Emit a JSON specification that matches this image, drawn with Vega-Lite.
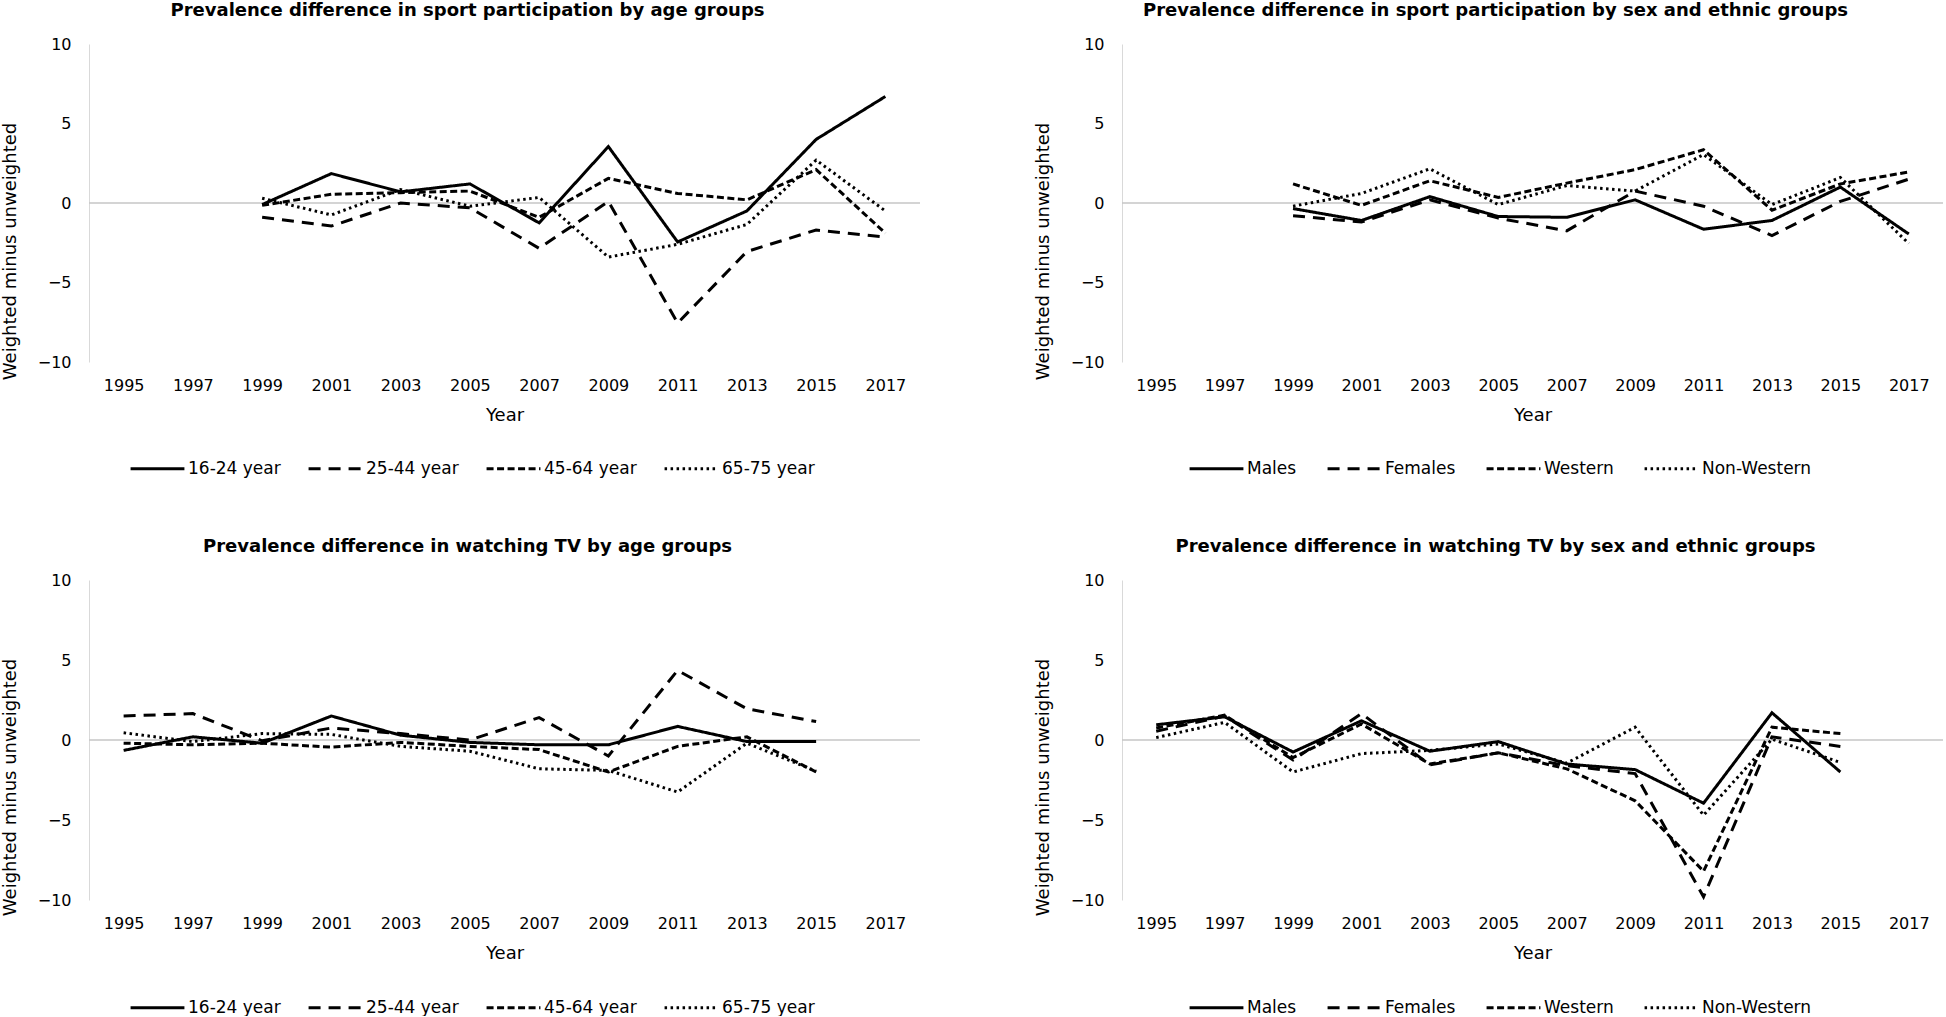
{
  "$schema": "https://vega.github.io/schema/vega-lite/v6.json",
  "background": "white",
  "padding": {"left": 1, "top": 2, "right": 0, "bottom": 0},
  "bounds": "flush",
  "columns": 2,
  "spacing": {"row": 218, "column": 202},
  "config": {
    "view": {"stroke": null},
    "font": "DejaVu Sans",
    "axis": {"labelFont": "DejaVu Sans", "titleFont": "DejaVu Sans", "labelColor": "black", "titleColor": "black", "titleFontWeight": "normal", "grid": false, "ticks": false},
    "legend": {"labelFont": "DejaVu Sans", "labelColor": "black"},
    "title": {"font": "DejaVu Sans", "fontSize": 18, "fontWeight": "bold", "color": "black", "anchor": "middle", "frame": "group", "dx": -37, "offset": 16}
  },
  "data": {"values": [
    {"panel": "A", "year": "1999", "group": "16-24 year", "value": -0.1},
    {"panel": "A", "year": "2001", "group": "16-24 year", "value": 1.85},
    {"panel": "A", "year": "2003", "group": "16-24 year", "value": 0.7},
    {"panel": "A", "year": "2005", "group": "16-24 year", "value": 1.2},
    {"panel": "A", "year": "2007", "group": "16-24 year", "value": -1.25},
    {"panel": "A", "year": "2009", "group": "16-24 year", "value": 3.55},
    {"panel": "A", "year": "2011", "group": "16-24 year", "value": -2.45},
    {"panel": "A", "year": "2013", "group": "16-24 year", "value": -0.5},
    {"panel": "A", "year": "2015", "group": "16-24 year", "value": 4.0},
    {"panel": "A", "year": "2017", "group": "16-24 year", "value": 6.7},
    {"panel": "A", "year": "1999", "group": "25-44 year", "value": -0.9},
    {"panel": "A", "year": "2001", "group": "25-44 year", "value": -1.45},
    {"panel": "A", "year": "2003", "group": "25-44 year", "value": 0.0},
    {"panel": "A", "year": "2005", "group": "25-44 year", "value": -0.3},
    {"panel": "A", "year": "2007", "group": "25-44 year", "value": -2.85},
    {"panel": "A", "year": "2009", "group": "25-44 year", "value": 0.1},
    {"panel": "A", "year": "2011", "group": "25-44 year", "value": -7.55},
    {"panel": "A", "year": "2013", "group": "25-44 year", "value": -3.05},
    {"panel": "A", "year": "2015", "group": "25-44 year", "value": -1.7},
    {"panel": "A", "year": "2017", "group": "25-44 year", "value": -2.15},
    {"panel": "A", "year": "1999", "group": "45-64 year", "value": -0.15},
    {"panel": "A", "year": "2001", "group": "45-64 year", "value": 0.55},
    {"panel": "A", "year": "2003", "group": "45-64 year", "value": 0.65},
    {"panel": "A", "year": "2005", "group": "45-64 year", "value": 0.75},
    {"panel": "A", "year": "2007", "group": "45-64 year", "value": -0.9},
    {"panel": "A", "year": "2009", "group": "45-64 year", "value": 1.55},
    {"panel": "A", "year": "2011", "group": "45-64 year", "value": 0.6},
    {"panel": "A", "year": "2013", "group": "45-64 year", "value": 0.2},
    {"panel": "A", "year": "2015", "group": "45-64 year", "value": 2.1},
    {"panel": "A", "year": "2017", "group": "45-64 year", "value": -1.9},
    {"panel": "A", "year": "1999", "group": "65-75 year", "value": 0.3},
    {"panel": "A", "year": "2001", "group": "65-75 year", "value": -0.75},
    {"panel": "A", "year": "2003", "group": "65-75 year", "value": 0.85},
    {"panel": "A", "year": "2005", "group": "65-75 year", "value": -0.2},
    {"panel": "A", "year": "2007", "group": "65-75 year", "value": 0.35},
    {"panel": "A", "year": "2009", "group": "65-75 year", "value": -3.4},
    {"panel": "A", "year": "2011", "group": "65-75 year", "value": -2.6},
    {"panel": "A", "year": "2013", "group": "65-75 year", "value": -1.35},
    {"panel": "A", "year": "2015", "group": "65-75 year", "value": 2.7},
    {"panel": "A", "year": "2017", "group": "65-75 year", "value": -0.5},

    {"panel": "B", "year": "1999", "group": "Males", "value": -0.35},
    {"panel": "B", "year": "2001", "group": "Males", "value": -1.1},
    {"panel": "B", "year": "2003", "group": "Males", "value": 0.4},
    {"panel": "B", "year": "2005", "group": "Males", "value": -0.85},
    {"panel": "B", "year": "2007", "group": "Males", "value": -0.9},
    {"panel": "B", "year": "2009", "group": "Males", "value": 0.2},
    {"panel": "B", "year": "2011", "group": "Males", "value": -1.65},
    {"panel": "B", "year": "2013", "group": "Males", "value": -1.1},
    {"panel": "B", "year": "2015", "group": "Males", "value": 1.0},
    {"panel": "B", "year": "2017", "group": "Males", "value": -1.95},
    {"panel": "B", "year": "1999", "group": "Females", "value": -0.8},
    {"panel": "B", "year": "2001", "group": "Females", "value": -1.2},
    {"panel": "B", "year": "2003", "group": "Females", "value": 0.2},
    {"panel": "B", "year": "2005", "group": "Females", "value": -0.95},
    {"panel": "B", "year": "2007", "group": "Females", "value": -1.75},
    {"panel": "B", "year": "2009", "group": "Females", "value": 0.75},
    {"panel": "B", "year": "2011", "group": "Females", "value": -0.2},
    {"panel": "B", "year": "2013", "group": "Females", "value": -2.05},
    {"panel": "B", "year": "2015", "group": "Females", "value": 0.1},
    {"panel": "B", "year": "2017", "group": "Females", "value": 1.5},
    {"panel": "B", "year": "1999", "group": "Western", "value": 1.2},
    {"panel": "B", "year": "2001", "group": "Western", "value": -0.15},
    {"panel": "B", "year": "2003", "group": "Western", "value": 1.4},
    {"panel": "B", "year": "2005", "group": "Western", "value": 0.35},
    {"panel": "B", "year": "2007", "group": "Western", "value": 1.25},
    {"panel": "B", "year": "2009", "group": "Western", "value": 2.1},
    {"panel": "B", "year": "2011", "group": "Western", "value": 3.35},
    {"panel": "B", "year": "2013", "group": "Western", "value": -0.45},
    {"panel": "B", "year": "2015", "group": "Western", "value": 1.2},
    {"panel": "B", "year": "2017", "group": "Western", "value": 1.95},
    {"panel": "B", "year": "1999", "group": "Non-Western", "value": -0.2},
    {"panel": "B", "year": "2001", "group": "Non-Western", "value": 0.6},
    {"panel": "B", "year": "2003", "group": "Non-Western", "value": 2.15},
    {"panel": "B", "year": "2005", "group": "Non-Western", "value": -0.1},
    {"panel": "B", "year": "2007", "group": "Non-Western", "value": 1.1},
    {"panel": "B", "year": "2009", "group": "Non-Western", "value": 0.75},
    {"panel": "B", "year": "2011", "group": "Non-Western", "value": 3.05},
    {"panel": "B", "year": "2013", "group": "Non-Western", "value": -0.1},
    {"panel": "B", "year": "2015", "group": "Non-Western", "value": 1.6},
    {"panel": "B", "year": "2017", "group": "Non-Western", "value": -2.55},

    {"panel": "C", "year": "1995", "group": "16-24 year", "value": -0.65},
    {"panel": "C", "year": "1997", "group": "16-24 year", "value": 0.2},
    {"panel": "C", "year": "1999", "group": "16-24 year", "value": -0.2},
    {"panel": "C", "year": "2001", "group": "16-24 year", "value": 1.5},
    {"panel": "C", "year": "2003", "group": "16-24 year", "value": 0.3},
    {"panel": "C", "year": "2005", "group": "16-24 year", "value": -0.15},
    {"panel": "C", "year": "2007", "group": "16-24 year", "value": -0.3},
    {"panel": "C", "year": "2009", "group": "16-24 year", "value": -0.3},
    {"panel": "C", "year": "2011", "group": "16-24 year", "value": 0.85},
    {"panel": "C", "year": "2013", "group": "16-24 year", "value": -0.1},
    {"panel": "C", "year": "2015", "group": "16-24 year", "value": -0.1},
    {"panel": "C", "year": "1995", "group": "25-44 year", "value": 1.5},
    {"panel": "C", "year": "1997", "group": "25-44 year", "value": 1.65},
    {"panel": "C", "year": "1999", "group": "25-44 year", "value": -0.05},
    {"panel": "C", "year": "2001", "group": "25-44 year", "value": 0.75},
    {"panel": "C", "year": "2003", "group": "25-44 year", "value": 0.4},
    {"panel": "C", "year": "2005", "group": "25-44 year", "value": 0.0},
    {"panel": "C", "year": "2007", "group": "25-44 year", "value": 1.4},
    {"panel": "C", "year": "2009", "group": "25-44 year", "value": -1.0},
    {"panel": "C", "year": "2011", "group": "25-44 year", "value": 4.35},
    {"panel": "C", "year": "2013", "group": "25-44 year", "value": 1.95},
    {"panel": "C", "year": "2015", "group": "25-44 year", "value": 1.15},
    {"panel": "C", "year": "1995", "group": "45-64 year", "value": -0.2},
    {"panel": "C", "year": "1997", "group": "45-64 year", "value": -0.3},
    {"panel": "C", "year": "1999", "group": "45-64 year", "value": -0.2},
    {"panel": "C", "year": "2001", "group": "45-64 year", "value": -0.45},
    {"panel": "C", "year": "2003", "group": "45-64 year", "value": -0.15},
    {"panel": "C", "year": "2005", "group": "45-64 year", "value": -0.4},
    {"panel": "C", "year": "2007", "group": "45-64 year", "value": -0.6},
    {"panel": "C", "year": "2009", "group": "45-64 year", "value": -2.0},
    {"panel": "C", "year": "2011", "group": "45-64 year", "value": -0.4},
    {"panel": "C", "year": "2013", "group": "45-64 year", "value": 0.2},
    {"panel": "C", "year": "2015", "group": "45-64 year", "value": -2.0},
    {"panel": "C", "year": "1995", "group": "65-75 year", "value": 0.45},
    {"panel": "C", "year": "1997", "group": "65-75 year", "value": -0.1},
    {"panel": "C", "year": "1999", "group": "65-75 year", "value": 0.4},
    {"panel": "C", "year": "2001", "group": "65-75 year", "value": 0.35},
    {"panel": "C", "year": "2003", "group": "65-75 year", "value": -0.4},
    {"panel": "C", "year": "2005", "group": "65-75 year", "value": -0.7},
    {"panel": "C", "year": "2007", "group": "65-75 year", "value": -1.8},
    {"panel": "C", "year": "2009", "group": "65-75 year", "value": -1.9},
    {"panel": "C", "year": "2011", "group": "65-75 year", "value": -3.25},
    {"panel": "C", "year": "2013", "group": "65-75 year", "value": -0.2},
    {"panel": "C", "year": "2015", "group": "65-75 year", "value": -1.95},

    {"panel": "D", "year": "1995", "group": "Males", "value": 0.95},
    {"panel": "D", "year": "1997", "group": "Males", "value": 1.45},
    {"panel": "D", "year": "1999", "group": "Males", "value": -0.75},
    {"panel": "D", "year": "2001", "group": "Males", "value": 1.2},
    {"panel": "D", "year": "2003", "group": "Males", "value": -0.7},
    {"panel": "D", "year": "2005", "group": "Males", "value": -0.1},
    {"panel": "D", "year": "2007", "group": "Males", "value": -1.5},
    {"panel": "D", "year": "2009", "group": "Males", "value": -1.85},
    {"panel": "D", "year": "2011", "group": "Males", "value": -3.95},
    {"panel": "D", "year": "2013", "group": "Males", "value": 1.7},
    {"panel": "D", "year": "2015", "group": "Males", "value": -2.0},
    {"panel": "D", "year": "1995", "group": "Females", "value": 0.55},
    {"panel": "D", "year": "1997", "group": "Females", "value": 1.5},
    {"panel": "D", "year": "1999", "group": "Females", "value": -1.25},
    {"panel": "D", "year": "2001", "group": "Females", "value": 1.65},
    {"panel": "D", "year": "2003", "group": "Females", "value": -1.55},
    {"panel": "D", "year": "2005", "group": "Females", "value": -0.8},
    {"panel": "D", "year": "2007", "group": "Females", "value": -1.6},
    {"panel": "D", "year": "2009", "group": "Females", "value": -2.1},
    {"panel": "D", "year": "2011", "group": "Females", "value": -9.8},
    {"panel": "D", "year": "2013", "group": "Females", "value": 0.2},
    {"panel": "D", "year": "2015", "group": "Females", "value": -0.4},
    {"panel": "D", "year": "1995", "group": "Western", "value": 0.75},
    {"panel": "D", "year": "1997", "group": "Western", "value": 1.55},
    {"panel": "D", "year": "1999", "group": "Western", "value": -1.1},
    {"panel": "D", "year": "2001", "group": "Western", "value": 1.0},
    {"panel": "D", "year": "2003", "group": "Western", "value": -1.5},
    {"panel": "D", "year": "2005", "group": "Western", "value": -0.8},
    {"panel": "D", "year": "2007", "group": "Western", "value": -1.8},
    {"panel": "D", "year": "2009", "group": "Western", "value": -3.8},
    {"panel": "D", "year": "2011", "group": "Western", "value": -8.2},
    {"panel": "D", "year": "2013", "group": "Western", "value": 0.8},
    {"panel": "D", "year": "2015", "group": "Western", "value": 0.4},
    {"panel": "D", "year": "1995", "group": "Non-Western", "value": 0.15},
    {"panel": "D", "year": "1997", "group": "Non-Western", "value": 1.1},
    {"panel": "D", "year": "1999", "group": "Non-Western", "value": -2.0},
    {"panel": "D", "year": "2001", "group": "Non-Western", "value": -0.85},
    {"panel": "D", "year": "2003", "group": "Non-Western", "value": -0.65},
    {"panel": "D", "year": "2005", "group": "Non-Western", "value": -0.25},
    {"panel": "D", "year": "2007", "group": "Non-Western", "value": -1.45},
    {"panel": "D", "year": "2009", "group": "Non-Western", "value": 0.8},
    {"panel": "D", "year": "2011", "group": "Non-Western", "value": -4.7},
    {"panel": "D", "year": "2013", "group": "Non-Western", "value": 0.05},
    {"panel": "D", "year": "2015", "group": "Non-Western", "value": -1.4}
  ]},
  "resolve": {"scale": {"strokeDash": "independent"}, "legend": {"strokeDash": "independent"}},
  "concat": [
    {
      "title": {"text": "Prevalence difference in sport participation by age groups"},
      "width": 831, "height": 318,
      "layer": [
        {"data": {"values": [{}]}, "mark": {"type": "rule", "color": "#c6c6c6", "strokeWidth": 1.5}, "encoding": {"y": {"datum": 0, "type": "quantitative", "scale": {"domain": [-10, 10], "nice": false}}}},
        {"transform": [{"filter": "datum.panel === 'A'"}],
         "mark": {"type": "line", "color": "black", "strokeWidth": 3},
         "encoding": {
           "x": {"field": "year", "type": "ordinal", "scale": {"type": "point", "domain": ["1995","1997","1999","2001","2003","2005","2007","2009","2011","2013","2015","2017"], "padding": 0.5}, "axis": {"title": "Year", "domain": false, "labelAngle": 0, "labelFontSize": 16, "labelPadding": 15, "titleFontSize": 18, "titleY": 53, "titleBaseline": "middle"}},
           "y": {"field": "value", "type": "quantitative", "scale": {"domain": [-10, 10], "nice": false}, "axis": {"title": "Weighted minus unweighted", "values": [-10, -5, 0, 5, 10], "domainColor": "#d9d9d9", "labelFontSize": 16, "labelPadding": 18, "titleFontSize": 18, "titleX": -79, "titleY": 207, "titleBaseline": "middle"}},
           "strokeDash": {"field": "group", "type": "nominal", "scale": {"domain": ["16-24 year", "25-44 year", "45-64 year", "65-75 year"], "range": [[1, 0], [12, 8], [7, 3.5], [2.5, 3.5]]}, "legend": {"title": null, "orient": "none", "legendX": 40, "legendY": 396, "direction": "horizontal", "columns": 4, "symbolType": "stroke", "symbolSize": 2900, "symbolStrokeWidth": 3, "symbolStrokeColor": "black", "labelFontSize": 17, "labelOffset": 2, "columnPadding": 21}}
         }}
      ]
    },
    {
      "title": {"text": "Prevalence difference in sport participation by sex and ethnic groups"},
      "width": 821, "height": 318,
      "layer": [
        {"data": {"values": [{}]}, "mark": {"type": "rule", "color": "#c6c6c6", "strokeWidth": 1.5}, "encoding": {"y": {"datum": 0, "type": "quantitative", "scale": {"domain": [-10, 10], "nice": false}}}},
        {"transform": [{"filter": "datum.panel === 'B'"}],
         "mark": {"type": "line", "color": "black", "strokeWidth": 3},
         "encoding": {
           "x": {"field": "year", "type": "ordinal", "scale": {"type": "point", "domain": ["1995","1997","1999","2001","2003","2005","2007","2009","2011","2013","2015","2017"], "padding": 0.5}, "axis": {"title": "Year", "domain": false, "labelAngle": 0, "labelFontSize": 16, "labelPadding": 15, "titleFontSize": 18, "titleY": 53, "titleBaseline": "middle"}},
           "y": {"field": "value", "type": "quantitative", "scale": {"domain": [-10, 10], "nice": false}, "axis": {"title": "Weighted minus unweighted", "values": [-10, -5, 0, 5, 10], "domainColor": "#d9d9d9", "labelFontSize": 16, "labelPadding": 18, "titleFontSize": 18, "titleX": -79, "titleY": 207, "titleBaseline": "middle"}},
           "strokeDash": {"field": "group", "type": "nominal", "scale": {"domain": ["Males", "Females", "Western", "Non-Western"], "range": [[1, 0], [12, 8], [7, 3.5], [2.5, 3.5]]}, "legend": {"title": null, "orient": "none", "legendX": 66, "legendY": 396, "direction": "horizontal", "columns": 4, "symbolType": "stroke", "symbolSize": 2900, "symbolStrokeWidth": 3, "symbolStrokeColor": "black", "labelFontSize": 17, "labelOffset": 2, "columnPadding": 24}}
         }}
      ]
    },
    {
      "title": {"text": "Prevalence difference in watching TV by age groups"},
      "width": 831, "height": 320,
      "layer": [
        {"data": {"values": [{}]}, "mark": {"type": "rule", "color": "#c6c6c6", "strokeWidth": 1.5}, "encoding": {"y": {"datum": 0, "type": "quantitative", "scale": {"domain": [-10, 10], "nice": false}}}},
        {"transform": [{"filter": "datum.panel === 'C'"}],
         "mark": {"type": "line", "color": "black", "strokeWidth": 3},
         "encoding": {
           "x": {"field": "year", "type": "ordinal", "scale": {"type": "point", "domain": ["1995","1997","1999","2001","2003","2005","2007","2009","2011","2013","2015","2017"], "padding": 0.5}, "axis": {"title": "Year", "domain": false, "labelAngle": 0, "labelFontSize": 16, "labelPadding": 15, "titleFontSize": 18, "titleY": 53, "titleBaseline": "middle"}},
           "y": {"field": "value", "type": "quantitative", "scale": {"domain": [-10, 10], "nice": false}, "axis": {"title": "Weighted minus unweighted", "values": [-10, -5, 0, 5, 10], "domainColor": "#d9d9d9", "labelFontSize": 16, "labelPadding": 18, "titleFontSize": 18, "titleX": -79, "titleY": 207, "titleBaseline": "middle"}},
           "strokeDash": {"field": "group", "type": "nominal", "scale": {"domain": ["16-24 year", "25-44 year", "45-64 year", "65-75 year"], "range": [[1, 0], [12, 8], [7, 3.5], [2.5, 3.5]]}, "legend": {"title": null, "orient": "none", "legendX": 40, "legendY": 399, "direction": "horizontal", "columns": 4, "symbolType": "stroke", "symbolSize": 2900, "symbolStrokeWidth": 3, "symbolStrokeColor": "black", "labelFontSize": 17, "labelOffset": 2, "columnPadding": 21}}
         }}
      ]
    },
    {
      "title": {"text": "Prevalence difference in watching TV by sex and ethnic groups"},
      "width": 821, "height": 320,
      "layer": [
        {"data": {"values": [{}]}, "mark": {"type": "rule", "color": "#c6c6c6", "strokeWidth": 1.5}, "encoding": {"y": {"datum": 0, "type": "quantitative", "scale": {"domain": [-10, 10], "nice": false}}}},
        {"transform": [{"filter": "datum.panel === 'D'"}],
         "mark": {"type": "line", "color": "black", "strokeWidth": 3},
         "encoding": {
           "x": {"field": "year", "type": "ordinal", "scale": {"type": "point", "domain": ["1995","1997","1999","2001","2003","2005","2007","2009","2011","2013","2015","2017"], "padding": 0.5}, "axis": {"title": "Year", "domain": false, "labelAngle": 0, "labelFontSize": 16, "labelPadding": 15, "titleFontSize": 18, "titleY": 53, "titleBaseline": "middle"}},
           "y": {"field": "value", "type": "quantitative", "scale": {"domain": [-10, 10], "nice": false}, "axis": {"title": "Weighted minus unweighted", "values": [-10, -5, 0, 5, 10], "domainColor": "#d9d9d9", "labelFontSize": 16, "labelPadding": 18, "titleFontSize": 18, "titleX": -79, "titleY": 207, "titleBaseline": "middle"}},
           "strokeDash": {"field": "group", "type": "nominal", "scale": {"domain": ["Males", "Females", "Western", "Non-Western"], "range": [[1, 0], [12, 8], [7, 3.5], [2.5, 3.5]]}, "legend": {"title": null, "orient": "none", "legendX": 66, "legendY": 399, "direction": "horizontal", "columns": 4, "symbolType": "stroke", "symbolSize": 2900, "symbolStrokeWidth": 3, "symbolStrokeColor": "black", "labelFontSize": 17, "labelOffset": 2, "columnPadding": 24}}
         }}
      ]
    }
  ]
}
